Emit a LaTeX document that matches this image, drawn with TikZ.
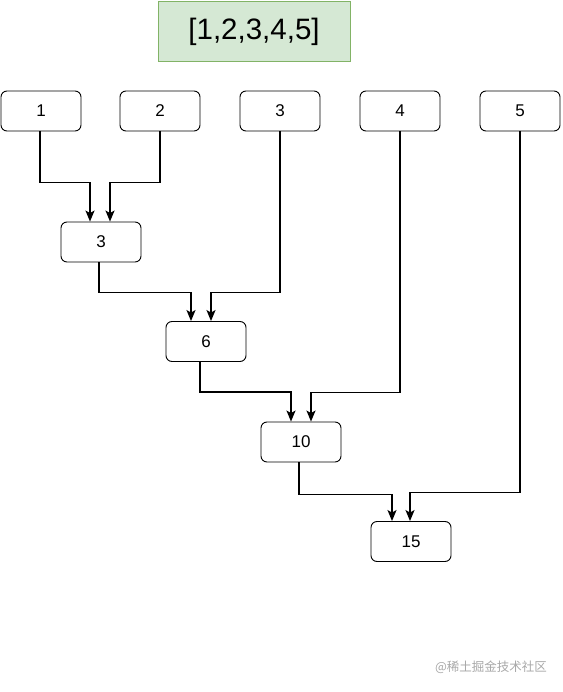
\documentclass[tikz,border=0pt]{standalone}
\usepackage{fontspec}
\setmainfont{Liberation Sans}
\newfontfamily\cjk{Noto Sans CJK SC}
\usetikzlibrary{arrows.meta}
\definecolor{gfill}{HTML}{D5E8D4}
\definecolor{gline}{HTML}{82B366}
\definecolor{wm}{HTML}{A8A8A8}
\tikzset{
  box/.style={draw=black, line width=0.9pt, rounded corners=6pt, minimum width=80pt, minimum height=40pt, inner sep=0pt, font=\fontsize{17}{19}\selectfont},
  title/.style={draw=gline, fill=gfill, line width=1pt, minimum width=192pt, minimum height=60pt, inner sep=0pt, font=\fontsize{29.5}{33}\selectfont},
  arr/.style={draw=black, line width=1.6pt, -{Stealth[length=11pt,width=9pt,inset=2.5pt]}},
}
\begin{document}
\begin{tikzpicture}[x=1pt,y=-1pt]
\useasboundingbox (0,0) rectangle (562,692);
\node[title] (t) at (254,32) {[1,2,3,4,5]};
\node[box] (b1) at (41,111) {1};
\node[box] (b2) at (160,111) {2};
\node[box] (b3) at (280,111) {3};
\node[box] (b4) at (400,111) {4};
\node[box] (b5) at (520,111) {5};
\node[box] (m3) at (101,242) {3};
\node[box] (m6) at (206,341.5) {6};
\node[box] (m10) at (301,442) {10};
\node[box] (m15) at (411,541.5) {15};
\draw[arr] ([xshift=-1pt]b1.south) -- ++(0,51) -| ([xshift=-11pt]m3.north);
\draw[arr] (b2.south) -- ++(0,51) -| ([xshift=9pt]m3.north);
\draw[arr] ([xshift=-2pt]m3.south) -- ++(0,30) -| ([xshift=-15pt]m6.north);
\draw[arr] (b3.south) -- ++(0,161) -| ([xshift=5pt]m6.north);
\draw[arr] ([xshift=-6pt]m6.south) -- ++(0,30) -| ([xshift=-10pt]m10.north);
\draw[arr] (b4.south) -- ++(0,261) -| ([xshift=10pt]m10.north);
\draw[arr] ([xshift=-2pt]m10.south) -- ++(0,32) -| ([xshift=-19pt]m15.north);
\draw[arr] (b5.south) -- ++(0,361) -| ([xshift=-1pt]m15.north);
\node[text=wm, font=\cjk\fontsize{12.5}{14}\selectfont, inner sep=0pt] (w) at (491,667) {@稀土掘金技术社区};
\end{tikzpicture}
\end{document}
